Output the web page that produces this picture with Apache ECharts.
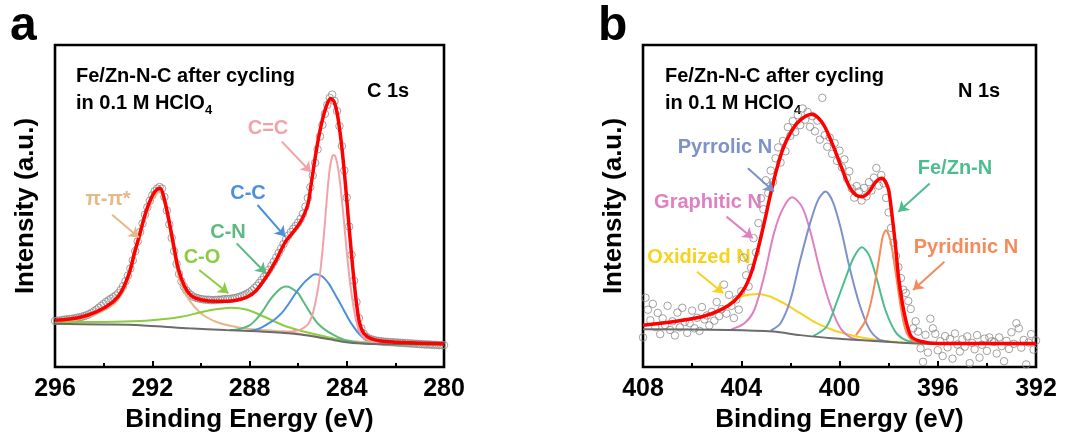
<!DOCTYPE html>
<html>
<head>
<meta charset="utf-8">
<script src="https://cdn.jsdelivr.net/npm/echarts/dist/echarts.min.js"></script>
<style>
html, body { margin: 0; padding: 0; background: #ffffff; }
#chart { width: 1076px; height: 438px; }
</style>
</head>
<body>
<div id="chart"></div>
<script>
// ---------- Panel a: C 1s ----------
// raw spectrum, 0.1 eV steps from 296.0 eV down to 280.0 eV
const c1sStart = 296.0;
const c1sStep = 0.1;
const c1sRaw = [
  14.3,14.4,14.4,14.6,14.7,14.8,14.9,15.0,15.1,15.3,
  15.4,15.6,15.8,16.1,16.4,16.8,17.3,17.8,18.4,19.0,
  19.6,20.2,20.7,21.2,21.7,22.2,22.9,23.9,25.1,26.6,
  28.4,30.6,33.1,36.0,39.0,41.9,44.6,47.3,49.6,51.6,
  53.3,54.6,55.4,55.9,55.4,52.8,48.6,44.3,40.1,36.0,
  32.0,28.9,26.6,25.0,23.8,22.9,22.3,21.8,21.5,21.3,
  21.1,21.0,20.9,20.9,20.8,20.8,20.8,20.9,20.9,21.0,
  21.1,21.1,21.2,21.3,21.4,21.6,21.8,22.1,22.4,22.8,
  23.2,23.8,24.5,25.2,26.1,27.0,28.0,29.1,30.2,31.4,
  32.7,34.0,35.4,36.8,38.2,39.6,40.8,41.9,42.9,43.8,
  44.8,46.0,47.6,49.8,52.5,55.8,59.5,63.4,67.6,71.6,
  75.2,78.6,81.4,83.6,84.6,82.6,79.5,74.8,68.6,61.0,
  52.6,43.6,34.8,26.8,20.2,15.2,12.0,10.3,9.4,8.9,
  8.6,8.4,8.2,8.1,8.0,7.9,7.8,7.8,7.7,7.7,
  7.6,7.6,7.5,7.5,7.4,7.4,7.3,7.3,7.2,7.2,
  7.1,7.1,7.0,7.0,7.0,6.9,6.9,6.9,6.8,6.8,
  6.8
];
const c1sEnvelope = [[296.0,14.5],[295.0,15.4],[294.3,17.1],[293.6,20.3],[293.27,23.4],[292.93,29.6],[292.73,35.5],[292.53,40.8],[292.27,48.0],[292.0,53.2],[291.8,55.2],[291.67,55.5],[291.5,52.0],[291.3,45.0],[291.1,37.0],[290.93,30.5],[290.67,25.0],[290.4,22.2],[290.0,20.9],[289.33,20.4],[288.67,20.6],[288.13,21.6],[287.73,23.7],[287.33,27.8],[286.93,32.8],[286.53,38.8],[286.13,42.6],[285.87,45.5],[285.6,50.5],[285.47,56.5],[285.33,63.5],[285.2,69.5],[285.07,74.5],[284.93,78.8],[284.8,81.8],[284.67,83.4],[284.53,82.5],[284.4,79.0],[284.27,72.5],[284.13,63.0],[284.0,52.0],[283.87,40.5],[283.73,29.0],[283.6,19.8],[283.47,13.6],[283.3,10.5],[283.0,8.8],[282.5,8.0],[281.6,7.6],[280.0,7.2]];
const c1sBackground = [[296,13.4],[294,13.2],[292.5,13.0],[291.5,12.5],[290.5,12.0],[289,11.5],[288,11.2],[287,10.8],[286,10.2],[285.3,9.4],[284.7,8.6],[284.1,7.8],[283.4,7.3],[282.5,7.1],[280,7.0]];
const c1sPiPi = [[296.0,14.0],[295.0,14.9],[294.3,16.4],[293.6,19.4],[293.27,22.4],[292.93,28.5],[292.73,34.4],[292.53,39.7],[292.27,46.8],[292.0,52.0],[291.8,54.0],[291.67,54.3],[291.5,51.0],[291.3,43.5],[291.1,35.0],[290.93,28.5],[290.67,23.2],[290.4,20.0],[290.1,17.4],[289.8,15.6],[289.33,13.9],[288.8,12.8],[288.0,11.8],[286.67,11.0],[285.6,9.9],[284.27,8.4],[282.93,7.6],[281.5,7.1]];
const c1sCO = [[296,13.9],[294,14.0],[292.5,14.3],[291.5,14.9],[290.8,15.6],[290.0,17.0],[289.4,17.9],[288.75,18.4],[288.1,17.8],[287.6,16.3],[287.1,14.6],[286.6,12.9],[286.0,11.5],[285.3,10.2],[284.5,8.8],[283.8,7.8],[283.0,7.3],[282,7.0],[280,7.0]];
const c1sCN = [[288.8,11.4],[288.4,11.8],[288.0,12.9],[287.7,15.0],[287.47,17.2],[287.2,20.4],[286.93,22.9],[286.7,24.5],[286.5,25.0],[286.3,24.6],[286.0,22.9],[285.8,20.5],[285.6,18.0],[285.4,15.6],[285.2,13.6],[284.9,11.6],[284.6,10.2],[284.2,8.7],[283.7,7.8],[283.2,7.3],[282.6,7.1]];
const c1sCC = [[288.0,11.2],[287.73,11.6],[287.47,12.4],[287.2,13.6],[286.93,15.0],[286.67,16.8],[286.4,19.5],[286.13,22.6],[285.87,25.2],[285.6,27.3],[285.3,28.8],[285.07,28.4],[284.93,27.6],[284.73,25.8],[284.53,23.2],[284.33,20.6],[284.13,17.8],[283.93,15.0],[283.73,12.6],[283.53,10.6],[283.33,9.2],[283.0,8.1],[282.6,7.5],[282.2,7.1]];
const c1sCdC = [[286.7,11.0],[286.2,11.1],[285.9,11.6],[285.6,13.2],[285.4,16.5],[285.25,21.5],[285.13,27.0],[285.0,36.0],[284.9,44.5],[284.8,54.0],[284.7,61.5],[284.6,65.3],[284.53,65.8],[284.45,65.0],[284.35,61.5],[284.25,55.5],[284.13,46.5],[284.0,35.8],[283.87,26.5],[283.73,19.0],[283.6,14.0],[283.47,11.0],[283.27,9.0],[283.0,8.0],[282.6,7.4],[282.2,7.1]];

// ---------- Panel b: N 1s ----------
const n1sStart = 408.0;
const n1sStep = 0.1;
const n1sRaw = [
  9.2,21.5,17.8,14.5,19.6,12.4,16.8,10.2,15.1,13.0,
  19.0,11.5,14.2,9.8,16.9,12.3,18.4,14.0,10.6,13.6,
  17.5,12.0,15.3,11.2,18.6,14.8,16.0,12.9,17.1,14.4,
  20.2,15.8,18.0,25.6,16.6,22.4,19.0,15.2,21.0,17.8,
  23.5,34.0,28.5,25.0,30.8,40.0,35.6,44.7,52.4,49.0,
  58.0,54.0,61.0,57.5,64.8,68.2,63.5,70.2,67.0,74.5,
  71.8,76.4,73.0,78.2,75.1,80.3,76.8,79.2,74.6,77.9,
  73.2,76.5,70.6,83.6,72.0,68.4,71.3,66.2,69.5,64.0,
  67.2,62.0,64.5,58.6,60.8,55.4,52.6,56.2,54.5,51.7,
  55.6,53.0,57.4,54.8,58.8,61.8,56.3,59.6,57.0,52.5,
  48.0,43.2,38.6,34.5,31.0,27.6,24.0,23.0,20.5,18.0,
  12.0,14.2,11.0,5.8,1.6,10.0,4.5,15.0,12.0,10.3,
  5.2,8.0,3.4,9.6,6.1,8.7,2.6,10.4,7.0,4.8,
  8.6,6.3,9.5,1.2,7.5,5.5,9.9,2.9,6.9,8.8,
  5.0,9.2,8.0,7.8,4.2,9.2,6.5,1.8,8.1,5.6,
  10.8,7.2,13.6,12.0,6.0,8.4,0.8,7.6,10.2,5.4,
  8.2
];
const n1sEnvelope = [[408.0,13.0],[406.93,13.9],[405.6,15.6],[404.8,17.9],[404.27,20.6],[403.87,24.4],[403.6,29.1],[403.33,36.3],[403.07,44.6],[402.8,53.9],[402.53,62.2],[402.27,68.4],[402.0,72.6],[401.73,75.7],[401.4,77.8],[401.13,78.5],[400.87,77.4],[400.6,74.6],[400.27,68.9],[399.93,62.2],[399.6,56.0],[399.33,53.4],[399.07,52.9],[398.8,54.3],[398.53,57.4],[398.27,58.6],[398.13,57.5],[398.0,55.0],[397.87,47.7],[397.73,38.4],[397.6,28.1],[397.44,19.8],[397.27,13.6],[397.07,9.4],[396.67,7.9],[396.0,7.3],[392.0,7.3]];
const n1sBackground = [[408,11.7],[404.5,11.5],[402.7,11.0],[401.6,9.9],[400.3,8.9],[398.9,8.2],[397.6,7.6],[396.3,7.2],[392,7.1]];
const n1sOxidized = [[405.6,15.6],[405.0,17.2],[404.67,18.5],[404.27,20.9],[403.87,22.2],[403.33,22.7],[402.8,21.8],[402.27,19.8],[401.6,16.7],[400.93,13.6],[400.27,11.5],[399.6,10.0],[398.93,8.9],[398.27,8.2],[397.6,7.7],[396.93,7.4],[396.3,7.2]];
const n1sGraphitic = [[404.4,11.7],[403.87,13.6],[403.47,17.7],[403.07,28.1],[402.67,41.5],[402.33,48.8],[401.93,52.7],[401.53,49.8],[401.2,42.5],[400.8,30.1],[400.4,19.8],[400.0,12.5],[399.6,9.4],[399.2,8.4]];
const n1sPyrrolic = [[402.8,11.3],[402.4,13.6],[402.0,20.8],[401.6,33.2],[401.2,44.6],[400.87,51.9],[400.57,54.5],[400.27,51.3],[399.93,42.5],[399.6,31.2],[399.2,19.8],[398.8,12.0],[398.4,8.6],[398.0,7.9]];
const n1sFeZnN = [[401.07,9.6],[400.53,12.5],[400.13,19.8],[399.73,28.1],[399.4,34.3],[399.09,37.2],[398.8,34.8],[398.47,27.0],[398.13,17.7],[397.73,11.0],[397.33,8.4],[396.93,7.7]];
const n1sPyridinic = [[399.33,9.9],[398.93,14.6],[398.67,21.8],[398.4,33.2],[398.24,40.5],[398.11,42.5],[397.93,39.4],[397.73,30.1],[397.53,19.8],[397.33,12.0],[397.07,8.4],[396.67,7.6]];

// ---------- labels ----------
const sampleLine1 = 'Fe/Zn-N-C after cycling';
const sampleLine2 = 'in 0.1 M HClO';
const sampleSub = '4';
const xTitle = 'Binding Energy (eV)';
const yTitle = 'Intensity (a.u.)';

const FONT = '"Liberation Sans", Arial, Helvetica, sans-serif';
const COL = {
  raw: '#8a8a8a', envelope: '#ff0000', background: '#6c6c6c',
  pipi: '#e3b98a', co: '#8ccd3f', cn: '#5cb97f', cc: '#4a8fe0', cdc: '#f2a2a8',
  oxi: '#f7d21e', gra: '#df80c3', pyr: '#7d91cc', fezn: '#4dbd8f', pyd: '#f58b5b'
};

function gridOf(i, left, width) {
  return { left: left, top: 45, width: width, height: 322, show: true,
           borderColor: '#000', borderWidth: 2.6, backgroundColor: 'transparent' };
}
function xAxisOf(i, min, max) {
  return {
    gridIndex: i, type: 'value', min: min, max: max, interval: 4, inverse: true,
    axisLine: { show: false },
    axisTick: { show: true, inside: true, length: 6, lineStyle: { color: '#000', width: 2 } },
    minorTick: { show: true, splitNumber: 2, length: 4, lineStyle: { color: '#000', width: 2 } },
    splitLine: { show: false }, minorSplitLine: { show: false },
    axisLabel: { color: '#000', fontSize: 25, fontWeight: 'bold', fontFamily: FONT, margin: 10,
                 showMinLabel: true, showMaxLabel: true },
    name: xTitle, nameLocation: 'middle', nameGap: 39,
    nameTextStyle: { color: '#000', fontSize: 26, fontWeight: 'bold', fontFamily: FONT }
  };
}
function yAxisOf(i) {
  return {
    gridIndex: i, type: 'value', min: 0, max: 100,
    axisLine: { show: false }, axisTick: { show: false }, axisLabel: { show: false },
    splitLine: { show: false },
    name: yTitle, nameLocation: 'middle', nameGap: 16, nameRotate: 90,
    nameTextStyle: { color: '#000', fontSize: 26, fontWeight: 'bold', fontFamily: FONT }
  };
}
function rawSeries(i, start, step, values) {
  return {
    type: 'scatter', xAxisIndex: i, yAxisIndex: i, silent: true,
    symbol: 'circle', symbolSize: 7.5,
    itemStyle: { color: 'rgba(255,255,255,0)', borderColor: COL.raw, borderWidth: 1 },
    data: values.map((v, k) => [+(start - step * k).toFixed(1), v]),
    z: 1
  };
}
function lineSeries(i, data, color, width, z) {
  return {
    type: 'line', xAxisIndex: i, yAxisIndex: i, silent: true,
    data: data, showSymbol: false, symbol: 'none', smooth: 0.3,
    lineStyle: { color: color, width: width }, z: z
  };
}
function arrow(from, to, color) {
  return [{ coord: from, lineStyle: { color: color, width: 2, type: 'solid' } }, { coord: to }];
}
function arrows(list) {
  return {
    silent: true, symbol: ['none', 'arrow'], symbolSize: 10,
    label: { show: false }, emphasis: { disabled: true },
    lineStyle: { type: 'solid', width: 2 }, animation: false,
    data: list
  };
}

const bgA = lineSeries(0, c1sBackground, COL.background, 2, 3);
bgA.markLine = arrows([
  arrow([293.65, 47.3], [292.55, 40.2], COL.pipi),
  arrow([290.07, 30.1], [288.87, 22.9], COL.co),
  arrow([288.53, 38.4], [287.33, 29.1], COL.cn),
  arrow([287.67, 50.3], [286.53, 40.5], COL.cc),
  arrow([286.67, 70.0], [285.47, 60.5], COL.cdc)
]);
const bgB = lineSeries(1, n1sBackground, COL.background, 2, 3);
bgB.markLine = arrows([
  arrow([403.73, 61.7], [402.67, 54.5], COL.pyr),
  arrow([404.6, 46.7], [403.53, 40.0], COL.gra),
  arrow([405.8, 29.6], [404.73, 22.9], COL.oxi),
  arrow([396.33, 57.0], [397.6, 48.2], COL.fezn),
  arrow([395.73, 32.7], [397.0, 23.9], COL.pyd)
]);

// width of the text before the subscript, for placing the "4"
const meas = document.createElement('canvas').getContext('2d');
meas.font = 'bold 20px ' + FONT;
const line2W = meas.measureText(sampleLine2).width;

function txt(text, x, y, color, size, align) {
  return { type: 'text', silent: true, style: {
    text: text, x: x, y: y, fill: color, font: 'bold ' + size + 'px ' + FONT,
    align: align || 'center', verticalAlign: 'middle' } };
}

const graphics = [
  txt('a', 10, 27, '#000', 48, 'left'),
  txt('b', 598, 27, '#000', 48, 'left'),
  txt(sampleLine1, 76, 76, '#000', 20, 'left'),
  txt(sampleLine2, 76, 103, '#000', 20, 'left'),
  txt(sampleSub, 76 + line2W, 110, '#000', 13, 'left'),
  txt('C 1s', 367, 91, '#000', 20, 'left'),
  txt(sampleLine1, 665, 76, '#000', 20, 'left'),
  txt(sampleLine2, 665, 103, '#000', 20, 'left'),
  txt(sampleSub, 665 + line2W, 110, '#000', 13, 'left'),
  txt('N 1s', 958, 91, '#000', 20, 'left'),
  txt('π-π*', 108, 199, COL.pipi, 20),
  txt('C-O', 202, 257, COL.co, 20),
  txt('C-N', 228, 232, COL.cn, 20),
  txt('C-C', 248, 193, COL.cc, 20),
  txt('C=C', 268, 128, COL.cdc, 20),
  txt('Pyrrolic N', 725, 147, COL.pyr, 20),
  txt('Graphitic N', 708, 202, COL.gra, 20),
  txt('Oxidized N', 699, 257, COL.oxi, 20),
  txt('Fe/Zn-N', 955, 168, COL.fezn, 20),
  txt('Pyridinic N', 966, 247, COL.pyd, 20)
];

const chart = echarts.init(document.getElementById('chart'), null, { renderer: 'canvas' });
chart.setOption({
  animation: false,
  backgroundColor: '#ffffff',
  grid: [gridOf(0, 55, 389), gridOf(1, 643, 393)],
  xAxis: [xAxisOf(0, 280, 296), xAxisOf(1, 392, 408)],
  yAxis: [yAxisOf(0), yAxisOf(1)],
  series: [
    rawSeries(0, c1sStart, c1sStep, c1sRaw),
    lineSeries(0, c1sPiPi, COL.pipi, 2, 2),
    lineSeries(0, c1sCO, COL.co, 2, 2),
    lineSeries(0, c1sCN, COL.cn, 2, 2),
    lineSeries(0, c1sCC, COL.cc, 2, 2),
    lineSeries(0, c1sCdC, COL.cdc, 2, 2),
    bgA,
    lineSeries(0, c1sEnvelope, COL.envelope, 3.5, 4),

    rawSeries(1, n1sStart, n1sStep, n1sRaw),
    lineSeries(1, n1sOxidized, COL.oxi, 2, 2),
    lineSeries(1, n1sGraphitic, COL.gra, 2, 2),
    lineSeries(1, n1sPyrrolic, COL.pyr, 2, 2),
    lineSeries(1, n1sFeZnN, COL.fezn, 2, 2),
    lineSeries(1, n1sPyridinic, COL.pyd, 2, 2),
    bgB,
    lineSeries(1, n1sEnvelope, COL.envelope, 3.5, 4)
  ],
  graphic: graphics
});
</script>
</body>
</html>
